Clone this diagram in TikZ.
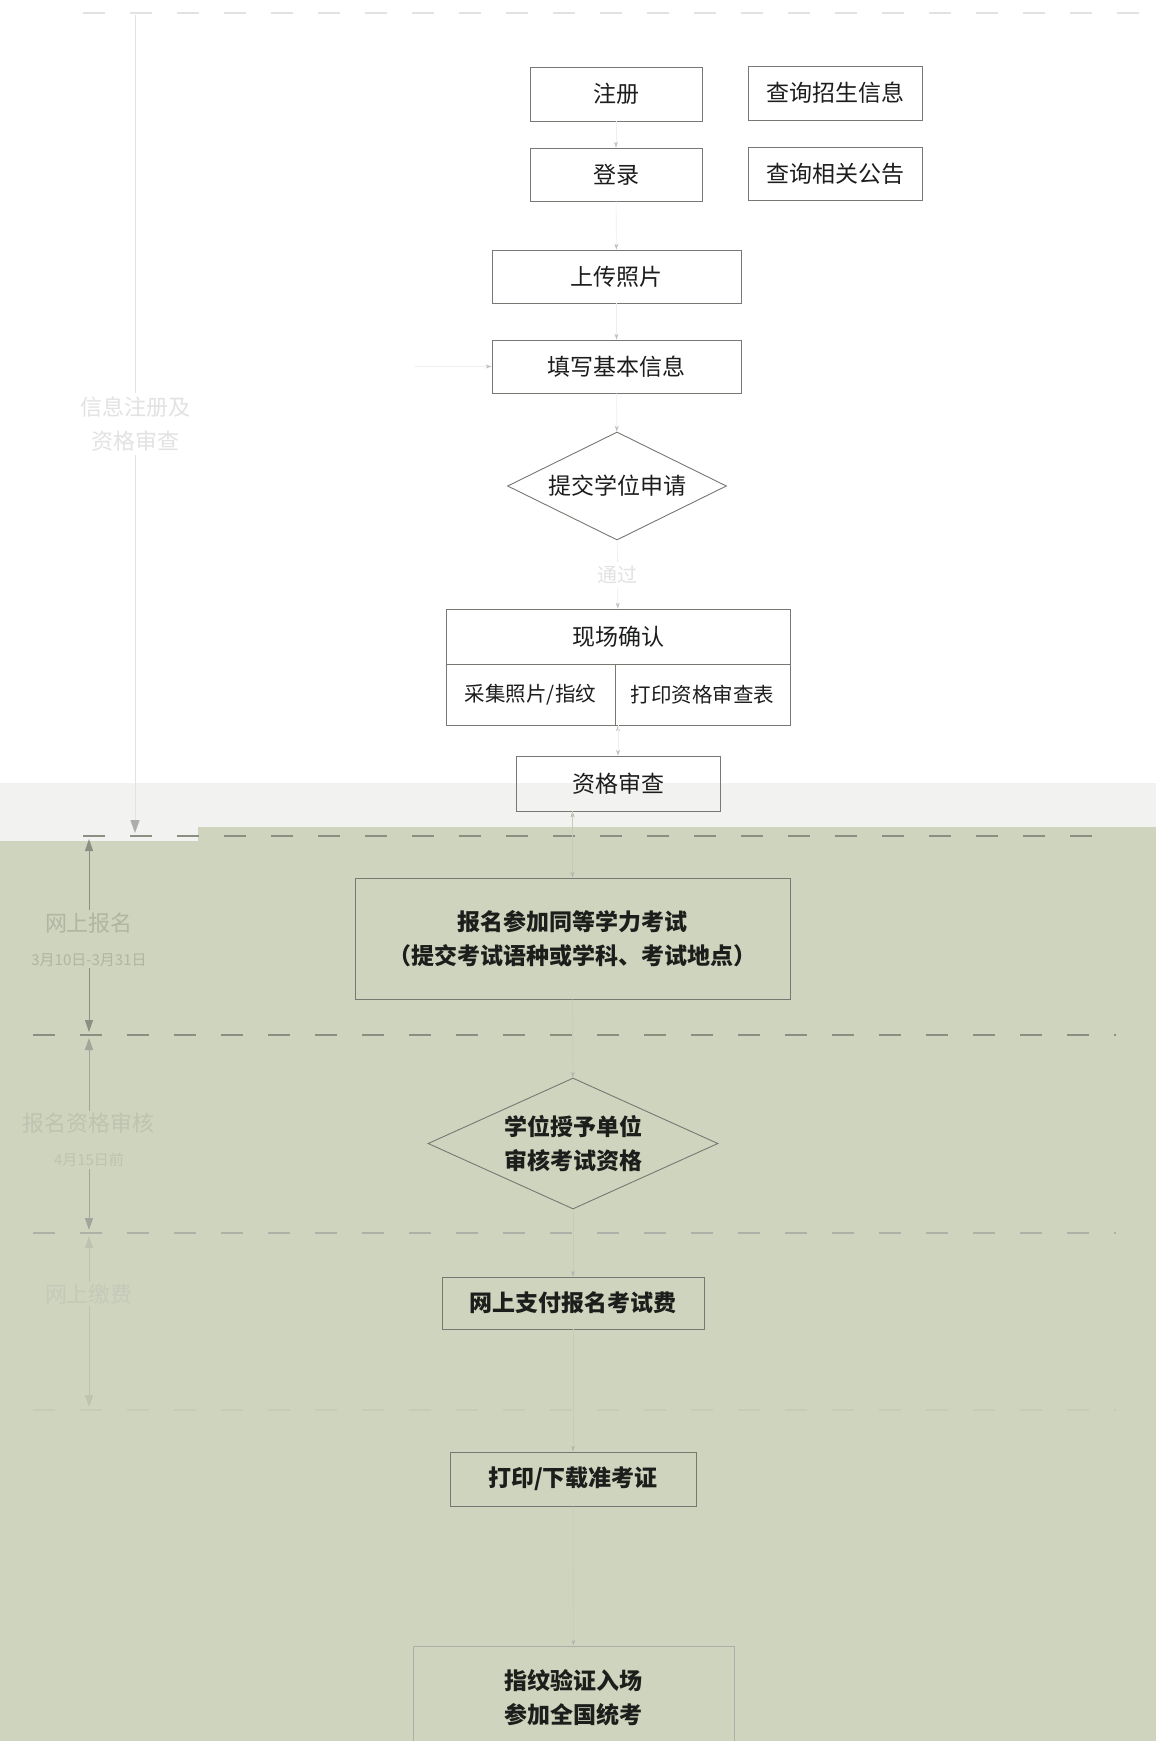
\documentclass[tikz,border=0pt]{standalone}
\usepackage{fontspec}
\setmainfont{Noto Sans CJK SC}
\usetikzlibrary{shapes.geometric,arrows.meta}

\definecolor{bggreen}{RGB}{207,212,190}
\definecolor{bandgray}{RGB}{242,242,240}
\definecolor{boxgray}{RGB}{118,120,114}
\definecolor{inkdark}{RGB}{28,30,28}
\definecolor{fadewhite}{RGB}{226,226,226}
\definecolor{fadeline}{RGB}{238,238,238}
\definecolor{fadegreen}{RGB}{176,181,164}
\definecolor{fadegreenb}{RGB}{190,195,178}
\definecolor{fadegline}{RGB}{199,204,183}
\definecolor{dashgray}{RGB}{138,143,130}

\begin{document}
\begin{tikzpicture}[x=1pt,y=-1pt,
  main node/.style={rectangle,draw=boxgray,line width=0.9pt,text=inkdark,inner sep=0pt,
    align=center,font=\fontsize{23}{34}\selectfont},
  low node/.style={main node,font=\fontsize{23}{34}\selectfont\bfseries},
  test node/.style={diamond,aspect=2,draw=boxgray,line width=0.9pt,text=inkdark,inner sep=0pt,
    align=center,font=\fontsize{23}{34}\selectfont},
  flow/.style={draw=fadeline,line width=0.6pt,-{Stealth[length=6pt,width=4pt,color=boxgray!45]}},
  flowg/.style={draw=fadegline,line width=0.6pt,-{Stealth[length=6pt,width=4pt,color=boxgray!55]}},
  phase/.style={line width=1pt,{Triangle[length=12pt,width=8pt]}-{Triangle[length=12pt,width=8pt]}},
  sep line/.style={dashgray,line width=1.3pt,dash pattern=on 22pt off 25pt},
  side label/.style={fill=bggreen,inner sep=2pt,align=center,font=\fontsize{22}{34}\selectfont}]

  \useasboundingbox (0,0) rectangle (1156,1741);

  % background
  \fill[white] (0,0) rectangle (1156,783);
  \fill[bandgray] (0,783) rectangle (1156,827);
  \fill[bandgray] (0,827) rectangle (198,841);
  \fill[bggreen] (198,827) rectangle (1156,1741);
  \fill[bggreen] (0,841) rectangle (198,1741);

  % phase separators
  \draw[sep line,draw=fadewhite] (83,13) -- (1156,13);
  \draw[sep line] (83,836) -- (1116,836);
  \draw[sep line] (33,1035) -- (1116,1035);
  \draw[sep line,draw=dashgray!70] (33,1233) -- (1116,1233);
  \draw[sep line,draw=fadegline] (33,1410) -- (1116,1410);

  % phase arrows
  \coordinate (p0) at (135,15);
  \coordinate (p1) at (135,833);
  \coordinate (q0) at (89,839);
  \coordinate (q1) at (89,1032);
  \coordinate (q2) at (89,1038);
  \coordinate (q3) at (89,1230);
  \coordinate (q4) at (89,1236);
  \coordinate (q5) at (89,1407);

  \path (p0) edge[draw=fadewhite,line width=1pt,-{Triangle[length=13pt,width=9pt,color=boxgray!60]}]
      node[pos=0.5,fill=white,text=fadewhite,align=center,font=\fontsize{22}{34}\selectfont]{信息注册及\\资格审查} (p1);
  \path (q0) edge[phase,draw=fadegreen,color=dashgray]
      node[pos=0.52,side label,text=fadegreen]{网上报名\\{\fontsize{15}{20}\selectfont 3月10日-3月31日}} (q1);
  \path (q2) edge[phase,draw=fadegreen,color=dashgray!80]
      node[pos=0.53,side label,text=fadegreenb]{报名资格审核\\{\fontsize{15}{20}\selectfont 4月15日前}} (q3);
  \path (q4) edge[phase,draw=fadegline,color=fadegreenb]
      node[pos=0.34,side label,text=fadegreenb!90]{网上缴费} (q5);

  % steps
  \node[main node,fill=white,minimum width=172pt,minimum height=54pt] (1) at (616,94) {注册};
  \node[main node,fill=white,minimum width=174pt,minimum height=54pt] (2) at (835,93) {查询招生信息};
  \node[main node,fill=white,minimum width=172pt,minimum height=53pt] (3) at (616,174.5) {登录};
  \node[main node,fill=white,minimum width=174pt,minimum height=53pt] (4) at (835,173.5) {查询相关公告};
  \node[main node,fill=white,minimum width=249pt,minimum height=53pt] (5) at (616.5,276.5) {上传照片};
  \node[main node,fill=white,minimum width=249pt,minimum height=53pt] (6) at (616.5,366.5) {填写基本信息};
  \node[test node,fill=white,minimum width=219pt,minimum height=108pt] (7) at (617,486) {提交学位申请};
  \node[main node,fill=white,minimum width=344pt,minimum height=55pt] (8) at (618,636.5) {现场确认};
  \node[main node,fill=white,minimum width=169pt,minimum height=61pt,font=\fontsize{20.5}{26}\selectfont] (9) at (530.5,694.5) {采集照片/指纹};
  \node[main node,fill=white,minimum width=175pt,minimum height=61pt,font=\fontsize{20.5}{26}\selectfont] (10) at (702.5,694.5) {打印资格审查表};
  \node[main node,minimum width=204pt,minimum height=55pt] (11) at (618,783.5) {资格审查};
  \node[low node,minimum width=435pt,minimum height=121pt] (12) at (572.5,938.5) {报名参加同等学力考试\\（提交考试语种或学科、考试地点）};
  \node[test node,font=\fontsize{23}{34}\selectfont\bfseries,minimum width=290pt,minimum height=131pt] (13) at (573,1143.5) {学位授予单位\\审核考试资格};
  \node[low node,minimum width=262pt,minimum height=52pt] (14) at (573,1303) {网上支付报名考试费};
  \node[low node,minimum width=246pt,minimum height=54pt] (15) at (573,1479) {打印/下载准考证};
  \node[low node,draw=boxgray!60,minimum width=321pt,minimum height=104pt] (16) at (573.5,1698) {指纹验证入场\\参加全国统考};

  \coordinate (a0) at (415,366.5);

  \path[flow]
    (1) edge (3)
    (3) edge (5)
    (5) edge (6)
    (a0) edge (6)
    (6) edge (7)
    (7) edge node[fill=white,text=fadewhite,font=\fontsize{20}{24}\selectfont]{通过} (8)
    (11 |- 9.south) edge (11);
  \path[flowg]
    (12.north |- 11.south) edge (12)
    (12) edge (13)
    (13) edge (14)
    (14) edge (15)
    (15) edge (16);
\end{tikzpicture}
\end{document}
